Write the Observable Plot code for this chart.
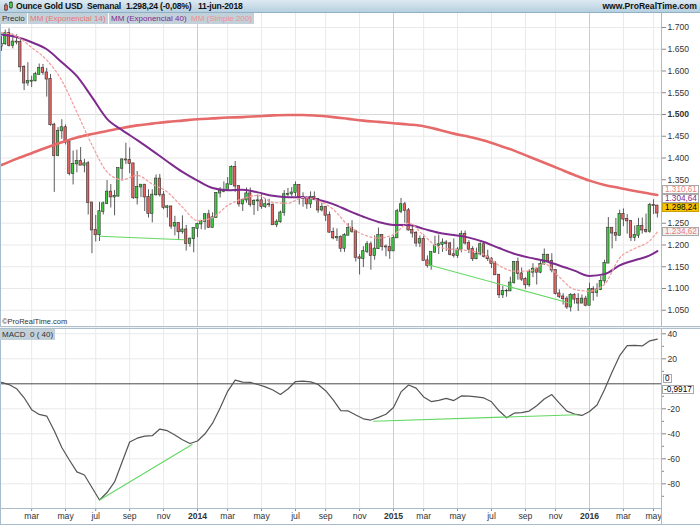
<!DOCTYPE html>
<html>
<head>
<meta charset="utf-8">
<script src="https://cdn.jsdelivr.net/npm/d3@7"></script>
<script src="https://cdn.jsdelivr.net/npm/@observablehq/plot@0.6"></script>
<style>
  html,body{margin:0;padding:0;background:#fff;}
  #wrap{position:relative;width:700px;height:525px;overflow:hidden;background:#fff;font-family:"Liberation Sans",Arial,sans-serif;color:#222;}
  #wrap > *{position:absolute;}
  .hdr{left:0;top:0;width:700px;height:13px;background:linear-gradient(#dde9f2,#b6cfdf);border-bottom:1px solid #8fb1c7;box-sizing:border-box;}
  .ht{top:1px;font-weight:bold;font-size:8.6px;line-height:11px;white-space:nowrap;color:#111;letter-spacing:-0.2px;}
  .leg{top:13px;height:11px;line-height:11px;font-size:8px;padding:0 2px;background:#c2d0da;white-space:nowrap;box-sizing:border-box;}
  .box{left:662px;width:37px;height:9px;line-height:8px;font-size:8.2px;padding-left:2px;box-sizing:border-box;border:1px solid #a9a9a9;white-space:nowrap;background:#fff;}
  .ln{background:#a9bccb;}
</style>
</head>
<body>
<div id="wrap"></div>
<script>
// ---------------- data ----------------
const weeks = [
"2013-01-07","2013-01-14","2013-01-21","2013-01-28","2013-02-04","2013-02-11","2013-02-18","2013-02-25","2013-03-04","2013-03-11","2013-03-18","2013-03-25","2013-04-01","2013-04-08","2013-04-15","2013-04-22","2013-04-29","2013-05-06","2013-05-13","2013-05-20","2013-05-27","2013-06-03","2013-06-10","2013-06-17","2013-06-24","2013-07-01","2013-07-08","2013-07-15","2013-07-22","2013-07-29","2013-08-05","2013-08-12","2013-08-19","2013-08-26","2013-09-02","2013-09-09","2013-09-16","2013-09-23","2013-09-30","2013-10-07","2013-10-14","2013-10-21","2013-10-28","2013-11-04","2013-11-11","2013-11-18","2013-11-25","2013-12-02","2013-12-09","2013-12-16","2013-12-23","2013-12-30",
"2014-01-06","2014-01-13","2014-01-20","2014-01-27","2014-02-03","2014-02-10","2014-02-17","2014-02-24","2014-03-03","2014-03-10","2014-03-17","2014-03-24","2014-03-31","2014-04-07","2014-04-14","2014-04-21","2014-04-28","2014-05-05","2014-05-12","2014-05-19","2014-05-26","2014-06-02","2014-06-09","2014-06-16","2014-06-23","2014-06-30","2014-07-07","2014-07-14","2014-07-21","2014-07-28","2014-08-04","2014-08-11","2014-08-18","2014-08-25","2014-09-01","2014-09-08","2014-09-15","2014-09-22","2014-09-29","2014-10-06","2014-10-13","2014-10-20","2014-10-27","2014-11-03","2014-11-10","2014-11-17","2014-11-24","2014-12-01","2014-12-08","2014-12-15","2014-12-22","2014-12-29",
"2015-01-05","2015-01-12","2015-01-19","2015-01-26","2015-02-02","2015-02-09","2015-02-16","2015-02-23","2015-03-02","2015-03-09","2015-03-16","2015-03-23","2015-03-30","2015-04-06","2015-04-13","2015-04-20","2015-04-27","2015-05-04","2015-05-11","2015-05-18","2015-05-25","2015-06-01","2015-06-08","2015-06-15","2015-06-22","2015-06-29","2015-07-06","2015-07-13","2015-07-20","2015-07-27","2015-08-03","2015-08-10","2015-08-17","2015-08-24","2015-08-31","2015-09-07","2015-09-14","2015-09-21","2015-09-28","2015-10-05","2015-10-12","2015-10-19","2015-10-26","2015-11-02","2015-11-09","2015-11-16","2015-11-23","2015-11-30","2015-12-07","2015-12-14","2015-12-21","2015-12-28",
"2016-01-04","2016-01-11","2016-01-18","2016-01-25","2016-02-01","2016-02-08","2016-02-15","2016-02-22","2016-02-29","2016-03-07","2016-03-14","2016-03-21","2016-03-28","2016-04-04","2016-04-11","2016-04-18","2016-04-25","2016-05-02","2016-05-09"];

const open = [
1656,1662,1687,1658,1667,1666,1609,1572,1576,1577,1592,1606,1596,1581,1476,1405,1462,1470,1436,1364,1386,1392,1383,1387,1297,1234,1223,1277,1295,1322,1310,1312,1376,1396,1395,1387,1308,1333,1338,1310,1272,1315,1352,1315,1286,1288,1243,1250,1230,1235,1203,1214,
1238,1248,1254,1270,1240,1263,1319,1323,1326,1339,1379,1335,1294,1303,1318,1293,1301,1302,1288,1293,1292,1246,1253,1274,1316,1317,1320,1337,1310,1307,1294,1310,1305,1280,1287,1268,1229,1216,1218,1192,1222,1238,1231,1171,1169,1185,1201,1175,1191,1222,1196,1195,
1186,1216,1277,1293,1279,1234,1227,1204,1213,1164,1152,1183,1199,1201,1205,1203,1178,1175,1189,1225,1204,1190,1168,1179,1201,1173,1168,1157,1131,1085,1094,1094,1113,1160,1134,1121,1108,1137,1145,1137,1156,1177,1163,1142,1088,1081,1076,1057,1085,1075,1066,1076,
1061,1098,1090,1097,1117,1158,1239,1227,1222,1271,1259,1255,1217,1222,1243,1234,1231,1291,1290];
const high = [
1679,1694,1697,1685,1683,1672,1612,1619,1588,1597,1616,1615,1606,1592,1480,1470,1488,1476,1437,1416,1418,1424,1397,1392,1298,1268,1298,1299,1348,1339,1325,1377,1398,1434,1423,1387,1369,1339,1339,1327,1327,1361,1362,1323,1291,1289,1266,1251,1267,1245,1216,1240,
1250,1256,1272,1280,1274,1320,1332,1345,1355,1382,1392,1336,1305,1331,1331,1304,1315,1316,1306,1305,1294,1258,1278,1325,1330,1332,1345,1339,1320,1311,1322,1322,1307,1296,1288,1276,1239,1237,1221,1226,1249,1256,1234,1178,1196,1208,1207,1221,1239,1224,1200,1216,
1224,1282,1307,1298,1284,1246,1231,1221,1223,1175,1183,1220,1223,1214,1210,1206,1214,1194,1232,1232,1210,1196,1193,1205,1205,1188,1171,1162,1131,1105,1098,1126,1162,1170,1147,1125,1143,1157,1145,1162,1191,1178,1180,1142,1097,1088,1081,1088,1088,1088,1085,1082,
1112,1104,1111,1128,1165,1263,1240,1261,1280,1283,1270,1256,1244,1261,1262,1271,1296,1304,1291];
const low = [
1645,1659,1655,1651,1660,1597,1555,1565,1562,1575,1590,1590,1540,1473,1321,1403,1443,1430,1359,1338,1366,1383,1366,1269,1180,1207,1208,1269,1293,1285,1267,1310,1347,1385,1364,1305,1292,1309,1277,1262,1251,1312,1310,1281,1262,1236,1221,1211,1225,1186,1195,1182,
1217,1235,1234,1238,1239,1262,1308,1320,1325,1338,1321,1287,1277,1296,1287,1268,1277,1282,1284,1286,1245,1240,1250,1266,1310,1311,1311,1292,1287,1282,1284,1302,1273,1276,1254,1227,1212,1208,1183,1183,1222,1227,1161,1131,1148,1180,1142,1165,1190,1186,1173,1167,
1186,1215,1272,1250,1232,1216,1195,1194,1164,1147,1142,1181,1178,1183,1185,1175,1170,1169,1182,1200,1180,1162,1166,1175,1170,1162,1146,1131,1077,1077,1080,1093,1110,1119,1116,1098,1103,1125,1108,1134,1153,1159,1136,1085,1077,1062,1052,1046,1064,1047,1065,1058,
1061,1071,1080,1095,1110,1157,1191,1208,1220,1242,1225,1208,1208,1215,1225,1227,1227,1270,1262];
const close = [
1662,1687,1658,1667,1666,1609,1572,1576,1577,1592,1606,1596,1581,1476,1405,1462,1470,1436,1364,1386,1392,1383,1387,1297,1234,1223,1277,1295,1322,1310,1312,1376,1396,1395,1387,1308,1333,1338,1310,1272,1315,1352,1315,1286,1288,1243,1250,1230,1235,1203,1214,1238,
1248,1254,1270,1240,1263,1319,1323,1326,1339,1379,1335,1294,1303,1318,1293,1301,1302,1288,1293,1292,1246,1253,1274,1316,1317,1320,1337,1310,1307,1294,1310,1305,1280,1287,1268,1229,1216,1218,1192,1222,1238,1231,1171,1169,1185,1201,1175,1191,1222,1196,1195,1186,
1216,1277,1293,1279,1234,1227,1204,1213,1164,1152,1183,1199,1201,1205,1203,1178,1175,1189,1225,1204,1190,1168,1179,1201,1173,1168,1157,1131,1085,1094,1094,1113,1160,1134,1121,1108,1137,1145,1137,1156,1177,1163,1142,1088,1081,1076,1057,1085,1075,1066,1076,1061,
1098,1090,1097,1117,1158,1239,1227,1222,1271,1259,1255,1217,1222,1243,1234,1231,1291,1290,1273];

// moving averages (every 4 weeks)
const maDates = ["2013-01-07","2013-02-04","2013-03-04","2013-04-01","2013-04-29","2013-05-27","2013-06-24","2013-07-22","2013-08-19","2013-09-16","2013-10-14","2013-11-11","2013-12-09",
"2014-01-06","2014-02-03","2014-03-03","2014-03-31","2014-04-28","2014-05-26","2014-06-23","2014-07-21","2014-08-18","2014-09-15","2014-10-13","2014-11-10","2014-12-08",
"2015-01-05","2015-02-02","2015-03-02","2015-03-30","2015-04-27","2015-05-25","2015-06-22","2015-07-20","2015-08-17","2015-09-14","2015-10-12","2015-11-09","2015-12-07",
"2016-01-04","2016-02-01","2016-02-29","2016-03-28","2016-04-25","2016-05-09"];
const sma200 = [1384,1398,1411,1424,1436,1447,1455,1462,1469,1475,1479,1483,1486,1489,1491,1493,1494,1496,1498,1499,1499,1497,1494,1490,1486,1483,1480,1477,1473,1465,1456,1449,1440,1429,1417,1403,1389,1375,1361,1348,1338,1331,1324,1318,1315];
const ema40 = [1684,1678,1666,1650,1620,1588,1540,1490,1464,1441,1417,1392,1368,1348,1331,1326,1327,1321,1313,1310,1310,1304,1294,1279,1265,1253,1246,1246,1237,1228,1223,1217,1207,1193,1180,1171,1164,1153,1141,1129,1133,1153,1165,1176,1186];
const ema14 = [1689,1680,1654,1625,1578,1505,1430,1368,1350,1360,1340,1322,1287,1256,1263,1291,1306,1314,1298,1296,1309,1302,1282,1245,1224,1216,1224,1250,1222,1195,1190,1187,1178,1153,1140,1140,1157,1126,1098,1094,1110,1170,1192,1210,1230];

// MACD 0 (40), one reading every second week starting with the first week
const macd = [1.1,-0.6,-3.9,-11.2,-20.7,-24.5,-25.8,-37.5,-51,-61,
-70.5,-73,-83,-93,-87,-78.5,-62.5,-46.5,-43.5,-41.8,
-41.5,-36.2,-37.5,-41,-44.8,-47.8,-45.8,-40,-31.5,-19.3,
-6,3,1.4,1.2,-0.6,-2.5,-5,-8.5,-4.2,1.8,
2.1,1.5,-0.5,-5.5,-12.8,-21.4,-21.7,-25,-28,-29,
-26.9,-24.4,-19,-6.5,-1,-3.5,-10.5,-14.2,-13.3,-11.7,
-13.4,-9.7,-9.9,-10.4,-11.3,-14.4,-21.6,-27.2,-23.5,-23,
-21.8,-17.5,-12.2,-8.6,-15.4,-21.9,-24.2,-25.3,-22.2,-17,
-4.5,9.5,22.5,30.5,30.7,30.3,34.4,35.8];

// trend lines drawn on the chart
const priceTrendDates = [["2013-07-08","2013-12-12"],["2015-03-09","2015-11-29"]];
const priceTrendValues = [[1220,1212],[1155,1066]];
const macdTrendDates = [["2013-07-09","2013-12-27"],["2014-11-29","2015-12-12"]];
const macdTrendValues = [[-92.8,-48.6],[-29.9,-24.8]];

// ticks and labels
const priceTicks = [1050,1100,1150,1200,1250,1300,1350,1400,1450,1500,1550,1600,1650,1700];
const priceBoldTick = [1500];
const priceHiddenTick = [1300];   // covered by the last-value boxes in the reference
const macdTicks = [40,20,-20,-40,-60,-80];
const macdMinor = [30,10,-10,-30,-50,-70,-90];
const tickMonths = ["2013-03-01","2013-05-01","2013-07-01","2013-09-01","2013-11-01","2014-01-01","2014-03-01","2014-05-01","2014-07-01","2014-09-01","2014-11-01","2015-01-01","2015-03-01","2015-05-01","2015-07-01","2015-09-01","2015-11-01","2016-01-01","2016-03-01","2016-05-01"];
const tickLabels = ["mar","may","jul","sep","nov","2014","mar","may","jul","sep","nov","2015","mar","may","jul","sep","nov","2016","mar","may"];

// texts
const headerItems = ["Ounce Gold USD","Semanal","1.298,24 (-0,08%)","11-jun-2018"];
const siteText = "www.ProRealTime.com";
const legendItems = ["Precio","MM (Exponencial 14)","MM (Exponencial 40)","MM (Simple 200)"];
const lastValues = [1310.61, 1304.64, 1298.24, 1234.62];
const macdLast = -0.9917;

// ---------------- build ----------------
const wrap = document.getElementById("wrap");
const add = h => wrap.insertAdjacentHTML("beforeend", h);
const loc = d3.formatLocale({decimal: ",", thousands: ".", grouping: [3], currency: ["", ""], minus: "-"});
const fmt0 = loc.format(",.0f");
const fmt2 = loc.format(",.2f");
const fmt4 = loc.format(".4f");
const parse = d3.utcParse("%Y-%m-%d");

const candles = weeks.map((w, i) => ({date: parse(w), open: open[i], high: high[i], low: low[i], close: close[i]}));
const upC = candles.filter(d => d.close >= d.open);
const dnC = candles.filter(d => d.close < d.open);
const maRows = maDates.map((d, i) => ({date: parse(d), sma200: sma200[i], ema40: ema40[i], ema14: ema14[i]}));
const macdRows = macd.map((v, j) => ({date: parse(weeks[2 * j]), value: v}));
const trendRows = (ds, vs) => ds.flatMap((pair, k) => pair.map((d, j) => ({id: k, date: parse(d), value: vs[k][j]})));
const priceTrend = trendRows(priceTrendDates, priceTrendValues);
const macdTrend = trendRows(macdTrendDates, macdTrendValues);

const tickDates = tickMonths.map(m => { const s = parse(m); return candles.find(c => c.date >= s).date; });
const labelOf = new Map(tickDates.map((d, i) => [+d, tickLabels[i]]));
const isYear = tickLabels.map(l => /^\d{4}$/.test(l));
const yearTicks = tickDates.filter((d, i) => isYear[i]);
const monthTicks = tickDates.filter((d, i) => !isYear[i]);
const normalPriceTicks = priceTicks.filter(v => !priceBoldTick.includes(v) && !priceHiddenTick.includes(v));

const font = "'Liberation Sans', Arial, sans-serif";
const X = {type: "utc", domain: [new Date("2013-01-05T03:26:00Z"), new Date("2016-05-16T17:09:00Z")], axis: null};
const st = {fontFamily: font, fontSize: "8.6px", color: "#333", background: "transparent", overflow: "visible"};
const GREEN = "#3fca3f", RED = "#e36262";

const pricePlot = Plot.plot({
  width: 700, height: 314, marginLeft: 0, marginRight: 39, marginTop: 0, marginBottom: 0,
  x: X, y: {domain: [1010.34, 1732.18], axis: null, label: null}, style: st,
  marks: [
    Plot.ruleY(priceTicks.filter(v => !priceBoldTick.includes(v)), {stroke: "#e9e9e9"}),
    Plot.ruleY(priceBoldTick, {stroke: "#d9d9d9"}),
    Plot.ruleX(monthTicks, {stroke: "#e9e9e9"}),
    Plot.ruleX(yearTicks, {stroke: "#cdcdcd"}),
    Plot.ruleX(candles, {x: "date", y1: "low", y2: "high", stroke: "#5a5a5a", strokeWidth: 1}),
    Plot.rect(upC, {x1: "date", x2: "date", y1: "open", y2: "close", fill: GREEN, stroke: "#2f2f2f", strokeWidth: 0.6, insetLeft: -1.2, insetRight: -1.2, insetTop: -0.3, insetBottom: -0.3}),
    Plot.rect(dnC, {x1: "date", x2: "date", y1: "open", y2: "close", fill: RED, stroke: "#2f2f2f", strokeWidth: 0.6, insetLeft: -1.2, insetRight: -1.2, insetTop: -0.3, insetBottom: -0.3}),
    Plot.line(maRows, {x: "date", y: "sma200", stroke: "#e66a6a", strokeWidth: 2.6, curve: "monotone-x"}),
    Plot.line(maRows, {x: "date", y: "ema40", stroke: "#7e2b8e", strokeWidth: 2, curve: "monotone-x"}),
    Plot.line(maRows, {x: "date", y: "ema14", stroke: "#f2a0a0", strokeWidth: 1.3, strokeDasharray: "2,2.5", curve: "monotone-x"}),
    Plot.line(priceTrend, {x: "date", y: "value", z: "id", stroke: "#62d862", strokeWidth: 1.1}),
    Plot.axisY(normalPriceTicks, {anchor: "right", label: null, tickSize: 4, tickPadding: 2, tickFormat: fmt0, stroke: "#888"}),
    Plot.axisY(priceBoldTick, {anchor: "right", label: null, tickSize: 4, tickPadding: 2, tickFormat: fmt0, fontWeight: "bold", stroke: "#888"})
  ]
});

const macdPlot = Plot.plot({
  width: 700, height: 197, marginLeft: 0, marginRight: 39, marginTop: 0, marginBottom: 17,
  x: X, y: {domain: [-99.76, 44.24], axis: null, label: null}, style: st,
  marks: [
    Plot.ruleY(macdTicks, {stroke: "#e9e9e9"}),
    Plot.ruleX(monthTicks, {stroke: "#e9e9e9"}),
    Plot.ruleX(yearTicks, {stroke: "#cdcdcd"}),
    Plot.ruleY([0], {stroke: "#4a4a4a", strokeWidth: 1}),
    Plot.line(macdRows, {x: "date", y: "value", stroke: "#555", strokeWidth: 1.2}),
    Plot.line(macdTrend, {x: "date", y: "value", z: "id", stroke: "#62d862", strokeWidth: 1.1}),
    Plot.axisY(macdTicks, {anchor: "right", label: null, tickSize: 4, tickPadding: 2, tickFormat: fmt0, stroke: "#888"}),
    Plot.axisY(macdMinor, {anchor: "right", label: null, tickSize: 2, tickFormat: () => "", stroke: "#888"}),
    Plot.axisX(monthTicks, {anchor: "bottom", label: null, tickSize: 3, tickPadding: 1, tickFormat: d => labelOf.get(+d), stroke: "#888"}),
    Plot.axisX(yearTicks, {anchor: "bottom", label: null, tickSize: 3, tickPadding: 1, tickFormat: d => labelOf.get(+d), fontWeight: "bold", stroke: "#888"})
  ]
});

pricePlot.style.position = "absolute"; pricePlot.style.left = "0px"; pricePlot.style.top = "13px";
macdPlot.style.position = "absolute"; macdPlot.style.left = "0px"; macdPlot.style.top = "328px";
wrap.appendChild(pricePlot);
wrap.appendChild(macdPlot);

// frame lines
add(`<div class="ln" style="left:0;top:13px;width:1px;height:512px"></div>`);
add(`<div class="ln" style="left:661px;top:13px;width:1px;height:512px"></div>`);
add(`<div style="left:0;top:326px;width:700px;height:3px;box-sizing:border-box;border-top:1px solid #aebfcc;border-bottom:1px solid #aebfcc;background:#eef2f5"></div>`);
add(`<div class="ln" style="left:0;top:508px;width:661px;height:1px"></div>`);
add(`<div class="ln" style="left:0;top:524px;width:700px;height:1px"></div>`);

// header
add(`<div class="hdr"></div>`);
add(`<svg style="left:2px;top:1px" width="13" height="11"><line x1="4" y1="2" x2="4" y2="10" stroke="#444"/><rect x="2.5" y="4" width="3" height="5" fill="${RED}" stroke="#333" stroke-width="0.6"/><line x1="9" y1="0" x2="9" y2="8" stroke="#444"/><rect x="7.5" y="1.5" width="3" height="5" fill="${GREEN}" stroke="#333" stroke-width="0.6"/></svg>`);
const hx = [16, 87, 126, 198];
headerItems.forEach((t, i) => add(`<div class="ht" style="left:${hx[i]}px">${t}</div>`));
add(`<div class="ht" style="right:3px;letter-spacing:0">${siteText}</div>`);

// legend
const lx = [0, 28, 109, 189], lc = ["#333", "#ec7474", "#7e2b8e", "#ef9090"];
legendItems.forEach((t, i) => add(`<div class="leg" style="left:${lx[i]}px;color:${lc[i]}">${t}</div>`));

// last value boxes on the price axis (stacked so they do not cover each other)
const ys = pricePlot.scale("y");
const nud = [-6.9, -0.5, 5.7, 1.6];
const bstyle = [
  "color:#ef8080;",
  "color:#7e2b8e;",
  "color:#000;background:#f7c600;border-color:#c9a200;",
  "color:#ef7a7a;background:#f1f1f1;"
];
lastValues.forEach((v, i) => {
  const cy = ys.apply(v) + 13 + nud[i];
  add(`<div class="box" style="top:${(cy - 4.5).toFixed(1)}px;${bstyle[i]}">${fmt2(v)}</div>`);
});

// price-panel footnote and MACD label
add(`<div style="left:2px;top:318px;font-size:7.5px;line-height:8px;color:#333">©ProRealTime.com</div>`);
add(`<div class="leg" style="left:0;top:329px;color:#333">MACD</div>`);
add(`<div class="leg" style="left:28px;top:329px;color:#333">0 ( 40)</div>`);

// MACD boxes
const my = macdPlot.scale("y");
const zy = my.apply(0) + 328;
add(`<div class="box" style="left:663px;width:9px;padding-left:1px;top:${(zy - 9).toFixed(1)}px;color:#000">${fmt0(0)}</div>`);
add(`<div class="box" style="left:662px;width:32px;padding-left:1px;top:${(zy + 2).toFixed(1)}px;color:#000">${fmt4(macdLast)}</div>`);
</script>
</body>
</html>
